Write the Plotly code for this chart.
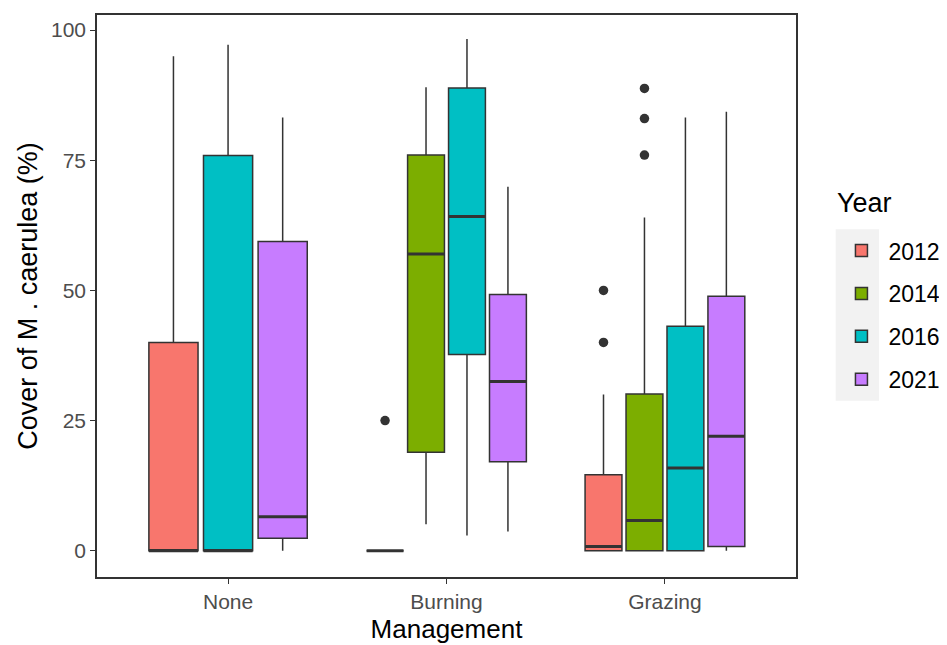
import plotly.graph_objects as go

# ---------------- data ----------------
management = ["None", "Burning", "Grazing"]
years = ["2012", "2014", "2016", "2021"]
colors = ["#F8766D", "#7CAE00", "#00BFC4", "#C77CFF"]
y_ticks = [0, 25, 50, 75, 100]

# values per management: None, Burning, Grazing  (None = no data that year)
q1_2012 = [0, 0, 0]
med_2012 = [0, 0, 0.8]
q3_2012 = [40, 0, 14.6]
lo_2012 = [0, 0, 0]
hi_2012 = [95, 0, 30]
out_2012 = [[], [25], [40, 50]]

q1_2014 = [None, 18.9, 0]
med_2014 = [None, 57, 5.8]
q3_2014 = [None, 76, 30.1]
lo_2014 = [None, 5.1, 0]
hi_2014 = [None, 89, 64]
out_2014 = [[], [], [76, 83, 88.8]]

q1_2016 = [0, 37.7, 0]
med_2016 = [0, 64.2, 15.9]
q3_2016 = [75.9, 88.9, 43.1]
lo_2016 = [0, 2.9, 0]
hi_2016 = [97.2, 98.3, 83.2]
out_2016 = [[], [], []]

q1_2021 = [2.4, 17.1, 0.8]
med_2021 = [6.5, 32.5, 22.0]
q3_2021 = [59.4, 49.2, 48.9]
lo_2021 = [0, 3.7, 0]
hi_2021 = [83.2, 69.9, 84.3]
out_2021 = [[], [], []]

stats = {
    "2012": dict(q1=q1_2012, med=med_2012, q3=q3_2012, lo=lo_2012, hi=hi_2012, out=out_2012),
    "2014": dict(q1=q1_2014, med=med_2014, q3=q3_2014, lo=lo_2014, hi=hi_2014, out=out_2014),
    "2016": dict(q1=q1_2016, med=med_2016, q3=q3_2016, lo=lo_2016, hi=hi_2016, out=out_2016),
    "2021": dict(q1=q1_2021, med=med_2021, q3=q3_2021, lo=lo_2021, hi=hi_2021, out=out_2021),
}

# ---------------- figure ----------------
FONT = "Liberation Sans, Arial, sans-serif"
EDGE = "#333333"
GROUP_W = 0.75

present = [[yr for yr in years if stats[yr]["q1"][ci] is not None]
           for ci in range(len(management))]

fig = go.Figure()
medians = []
outliers = []
for yi, yr in enumerate(years):
    s = stats[yr]
    first = True
    for ci, m in enumerate(management):
        if s["q1"][ci] is None:
            continue
        n = len(present[ci])
        k = present[ci].index(yr)
        slot = GROUP_W / n
        center = (ci + 1) - GROUP_W / 2 + slot * (k + 0.5)
        w = slot * 0.9
        fig.add_trace(go.Box(
            x=[center], q1=[s["q1"][ci]], median=[s["med"][ci]], q3=[s["q3"][ci]],
            lowerfence=[s["lo"][ci]], upperfence=[s["hi"][ci]],
            width=w, whiskerwidth=0, boxpoints=False,
            fillcolor=colors[yi], line=dict(color=EDGE, width=1.5),
            name=yr, legendgroup=yr, showlegend=first,
        ))
        first = False
        medians.append((center - w / 2, center + w / 2, s["med"][ci]))
        if s["out"][ci]:
            outliers.append((center, s["out"][ci]))

for x0, x1, mv in medians:
    fig.add_trace(go.Scatter(x=[x0, x1], y=[mv, mv], mode="lines",
                             line=dict(color=EDGE, width=3),
                             showlegend=False, hoverinfo="skip"))
for cx, vals in outliers:
    fig.add_trace(go.Scatter(x=[cx] * len(vals), y=vals, mode="markers",
                             marker=dict(color=EDGE, size=9.5),
                             showlegend=False))

axis_common = dict(
    showline=True, mirror=True, linecolor=EDGE, linewidth=1.5,
    ticks="outside", ticklen=5, tickcolor=EDGE, tickwidth=1.2,
    showgrid=False, zeroline=False,
    tickfont=dict(family=FONT, size=21, color="#4D4D4D"),
)

fig.update_layout(
    width=947, height=645,
    margin=dict(l=89, r=159, t=5, b=76),
    paper_bgcolor="white", plot_bgcolor="white",
    boxmode="overlay",
    font=dict(family=FONT),
    xaxis=dict(range=[0.4, 3.6], tickvals=[1, 2, 3], ticktext=management,
               title=dict(text="Management", font=dict(family=FONT, size=26, color="black"),
                          standoff=8),
               **axis_common),
    yaxis=dict(range=[-5.05, 102.9], tickvals=y_ticks,
               title=dict(text="Cover of M . caerulea (%)",
                          font=dict(family=FONT, size=27, color="black"), standoff=6),
               **axis_common),
    legend=dict(
        font=dict(family=FONT, size=23, color="black"),
        x=1.055, xanchor="left", y=0.619, yanchor="top",
        itemwidth=44,
        tracegroupgap=10, bgcolor="rgba(0,0,0,0)",
    ),
    annotations=[dict(text="Year", x=1.0558, y=0.665, xref="paper", yref="paper",
                      xanchor="left", yanchor="middle", showarrow=False,
                      font=dict(family=FONT, size=27, color="black"))],
    shapes=[dict(type="rect", xref="paper", yref="paper",
                 x0=1.0568, x1=1.1187, y0=0.3138, y1=0.6188,
                 fillcolor="#F2F2F2", line=dict(width=0), layer="below")],
)

fig.write_html("out.html")
